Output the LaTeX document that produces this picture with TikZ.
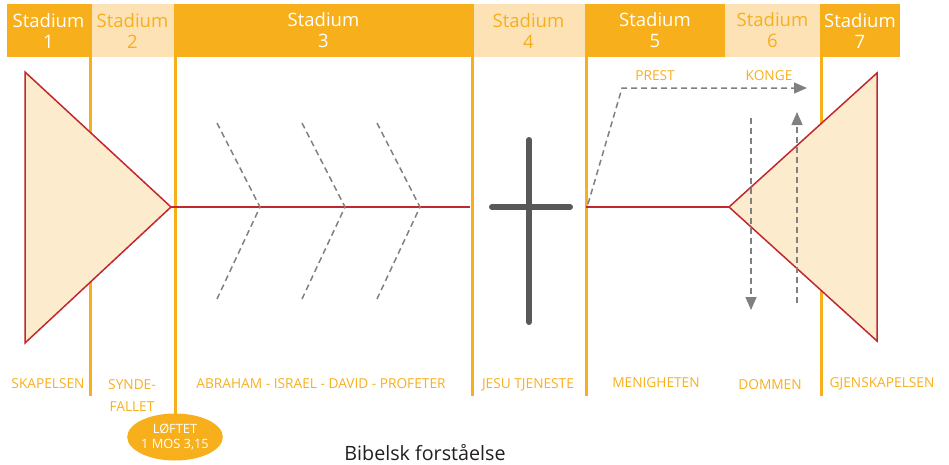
\documentclass[tikz,border=0pt]{standalone}
\usepackage{fontspec}
\setmainfont{Open Sans}
\usetikzlibrary{arrows.meta,shapes.geometric}
\definecolor{ora}{HTML}{F8AF1C}
\definecolor{lor}{HTML}{FDE2B6}
\definecolor{tri}{HTML}{FDEBCD}
\definecolor{rd}{HTML}{C0282E}
\definecolor{gr}{HTML}{808080}
\definecolor{cr}{HTML}{58585A}
\definecolor{ttl}{HTML}{231F20}
\begin{document}
\begin{tikzpicture}[x=1pt,y=-1pt,
  hbox/.style={inner sep=0pt, align=center, font=\fontsize{18.5}{21}\selectfont, minimum height=53pt},
  hdark/.style={hbox, fill=ora, text=white},
  hlight/.style={hbox, fill=lor, text=ora},
  vline/.style={ora, line width=3pt},
  fish/.style={draw=rd, fill=tri, line width=1.5pt, line join=miter},
  spine/.style={rd, line width=1.5pt},
  gdash/.style={gr, line width=1.5pt, dash pattern=on 6pt off 4pt},
  garrow/.style={gdash, -{Triangle[length=13pt,width=11pt]}},
  lbl/.style={text=ora, font=\fontsize{13.7}{22}\selectfont, inner sep=0pt, align=center},
  crossbar/.style={cr, line width=6pt, line cap=round}]
\useasboundingbox (0,0) rectangle (949,464);
% header
\node[hdark,  minimum width=83pt]  (s1) at (48.5,30.5)  {Stadium\\1};
\node[hlight, minimum width=85pt]  (s2) at (132.5,30.5) {Stadium\\2};
\node[hdark,  minimum width=297pt] (s3) at (323.5,30.5) {Stadium\\3};
\node[hlight, minimum width=113pt] (s4) at (528.5,30.5) {Stadium\\4};
\node[hdark,  minimum width=140pt] (s5) at (655,30.5)   {Stadium\\5};
\node[hlight, minimum width=95pt]  (s6) at (772.5,30.5) {Stadium\\6};
\node[hdark,  minimum width=80pt]  (s7) at (860,30.5)   {Stadium\\7};
% vertical separators
\draw[vline] (90,4) -- (90,396);
\draw[vline] (175,4) -- (175,416);
\draw[vline] (472,4) -- (472,396);
\draw[vline] (586,4) -- (586,396);
\draw[vline] (821,4) -- (821,396);
% fish
\coordinate (ltip) at (171,207);
\coordinate (rtip) at (729,207);
\draw[fish] (25,72) -- (ltip) -- (25,343) -- cycle;
\draw[spine] (ltip) -- (470,207);
\draw[spine] (586,207) -- (rtip);
\draw[fish] (877,73) -- (rtip) -- (877,341) -- cycle;
% chevrons
\draw[gdash] (217,123) -- (260,207) -- (217,299);
\draw[gdash] (302,123) -- (345,207) -- (302,299);
\draw[gdash] (377,123) -- (420,207) -- (377,299);
% cross
\draw[crossbar] (529,140) -- (529,322);
\draw[crossbar] (492,207) -- (570,207);
% arrows
\coordinate (pstart) at (588,204);
\coordinate (pend) at (807,88);
\draw[garrow] (pstart) -- (622,88) -- (pend);
\coordinate (dtop) at (751,118);
\coordinate (dbot) at (751,310);
\draw[garrow] (dtop) -- (dbot);
\coordinate (ubot) at (797,303);
\coordinate (utop) at (797,112);
\draw[garrow] (ubot) -- (utop);
\node[lbl] (prest) at (655,76) {PREST};
\node[lbl] (konge) at (769,76) {KONGE};
% bottom labels
\node[lbl] (l1) at (48,384) {SKAPELSEN};
\node[lbl] (l2) at (132,396) {SYNDE-\\FALLET};
\node[lbl] (l3) at (321,384) {ABRAHAM - ISRAEL - DAVID - PROFETER};
\node[lbl] (l4) at (528,385) {JESU TJENESTE};
\node[lbl] (l5) at (656,383) {MENIGHETEN};
\node[lbl] (l6) at (770,385) {DOMMEN};
\node[lbl] (l7) at (882,384) {GJENSKAPELSEN};
% promise
\node[ellipse, fill=ora, text=white, minimum width=93pt, minimum height=47pt, inner sep=0pt, align=center, font=\fontsize{12.8}{15.5}\selectfont] (lof) at (175,437) {LØFTET\\1 MOS 3,15};
% title
\node[anchor=base, text=ttl, inner sep=0pt, font=\fontsize{19.7}{22}\selectfont] (title) at (425,460) {Bibelsk forståelse};
\end{tikzpicture}
\end{document}
